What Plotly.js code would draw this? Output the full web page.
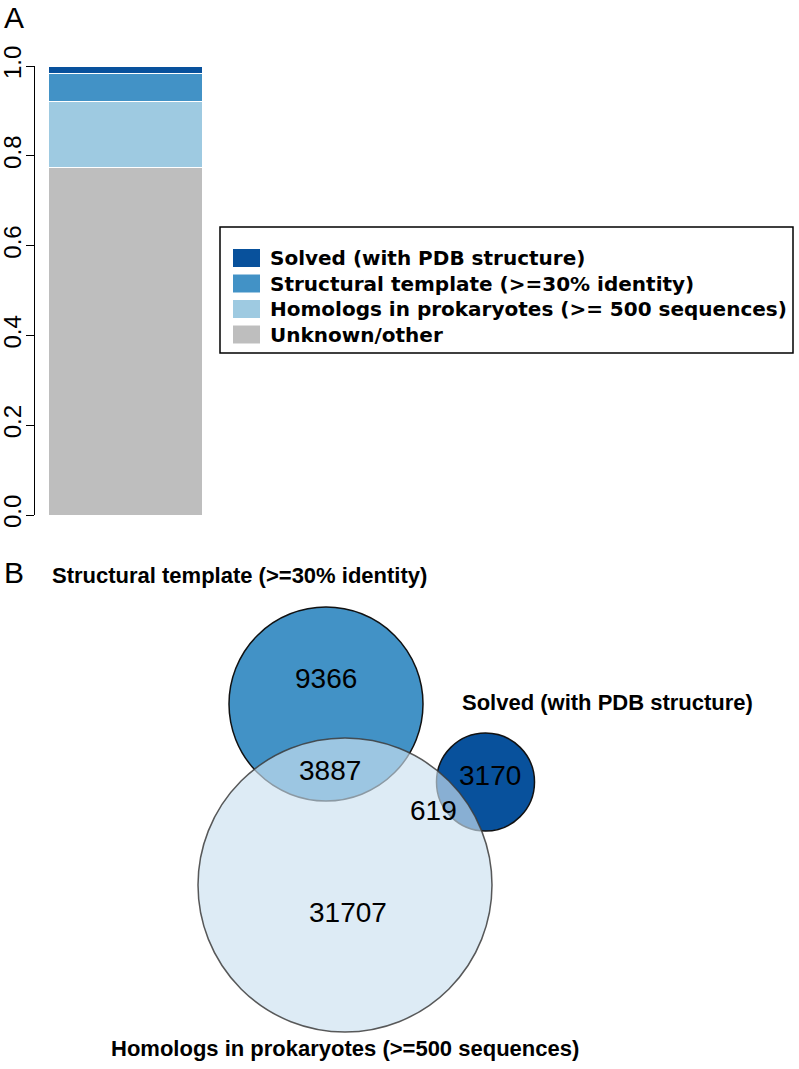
<!DOCTYPE html>
<html>
<head>
<meta charset="utf-8">
<script src="https://cdn.plot.ly/plotly-3.0.1.min.js"></script>
<style>
  html, body { margin: 0; padding: 0; background: #fff; }
  #chart { width: 799px; height: 1069px; }
</style>
</head>
<body>
<div id="chart"></div>
<script>
// ====== Data ======
// Panel A: share of proteins per category (bottom to top of the stacked bar)
var barCategories = ['Unknown/other', 'Homologs in prokaryotes (>= 500 sequences)',
                     'Structural template (>=30% identity)', 'Solved (with PDB structure)'];
var barShares = [0.775, 0.147, 0.062, 0.016];
var yTickVals = [0, 0.2, 0.4, 0.6, 0.8, 1.0];
var yTickText = ['0.0', '0.2', '0.4', '0.6', '0.8', '1.0'];

// Panel B: Venn diagram sets and region counts
var vennSets = ['Structural template (>=30% identity)', 'Solved (with PDB structure)',
                'Homologs in prokaryotes (>=500 sequences)'];
var vennRegions = ['template only', 'template & homologs', 'solved only', 'solved & homologs', 'homologs only'];
var vennCounts = [9366, 3887, 3170, 619, 31707];

// ====== Styles / geometry ======
var W = 799, H = 1069;
var barColors = ['#BEBEBE', '#9ECAE1', '#4292C6', '#08519C'];
var legendOrder = [3, 2, 1, 0];

// venn circles in pixel units: structural, solved, homologs (drawn in this order)
var circX = [326, 485.5, 345];
var circY = [704, 782, 885];
var circR = [97, 49, 147];
var circFill = ['#4292C6', '#08519C', 'rgba(203,225,240,0.66)'];
var circLine = ['#111111', '#111111', 'rgba(60,60,60,0.85)'];
var regionX = [326, 330, 490, 433, 348];
var regionY = [678, 770, 775, 810, 912];
var setLabelX = [239, 607, 345];
var setLabelY = [575, 702, 1048];

function px(x) { return x / W; }
function py(y) { return 1 - y / H; }

var sansFont = 'Liberation Sans, Arial, Helvetica, sans-serif';
var legFont = 'DejaVu Sans, Verdana, sans-serif';

// ====== Traces ======
var traces = barCategories.map(function (c, i) {
  return {
    type: 'bar', name: c, x: [0.5], y: [barShares[i]], width: [1],
    marker: { color: barColors[i], line: { color: '#ffffff', width: 1 } },
    xaxis: 'x', yaxis: 'y', hoverinfo: 'skip', showlegend: false
  };
});

// ====== Shapes & annotations ======
var shapes = [];
var annotations = [];

// legend for panel A
var legBox = { x0: 220, x1: 793, y0: 227, y1: 353 };
shapes.push({
  type: 'rect', xref: 'paper', yref: 'paper',
  x0: px(legBox.x0), x1: px(legBox.x1), y0: py(legBox.y0), y1: py(legBox.y1),
  line: { color: '#000', width: 1.5 }, fillcolor: 'rgba(0,0,0,0)'
});
legendOrder.forEach(function (idx, row) {
  var cy = 258 + row * 25.5;
  shapes.push({
    type: 'rect', xref: 'paper', yref: 'paper',
    x0: px(233), x1: px(260), y0: py(cy - 9), y1: py(cy + 9),
    line: { width: 0 }, fillcolor: barColors[idx]
  });
  annotations.push({
    xref: 'paper', yref: 'paper', x: px(268), y: py(cy),
    xanchor: 'left', yanchor: 'middle', showarrow: false,
    text: barCategories[idx],
    font: { family: legFont, size: 20, color: '#000', weight: 'bold' }
  });
});

// panel letters (top-anchored so the text box stays inside the page)
[['A', 14, 0], ['B', 14, 555]].forEach(function (p) {
  annotations.push({
    xref: 'paper', yref: 'paper', x: px(p[1]), y: py(p[2]),
    xanchor: 'center', yanchor: 'top', showarrow: false, text: p[0],
    borderpad: 0,
    font: { family: sansFont, size: 30, color: '#000' }
  });
});

// venn circles
circR.forEach(function (r, i) {
  shapes.push({
    type: 'circle', xref: 'x2', yref: 'y2',
    x0: circX[i] - r, x1: circX[i] + r, y0: circY[i] - r, y1: circY[i] + r,
    fillcolor: circFill[i], line: { color: circLine[i], width: 1.5 }
  });
});

// venn region counts
vennCounts.forEach(function (n, i) {
  annotations.push({
    xref: 'x2', yref: 'y2', x: regionX[i], y: regionY[i],
    xanchor: 'center', yanchor: 'middle', showarrow: false, text: String(n),
    font: { family: sansFont, size: 28, color: '#000' }
  });
});

// venn set labels
vennSets.forEach(function (s, i) {
  annotations.push({
    xref: 'x2', yref: 'y2', x: setLabelX[i], y: setLabelY[i],
    xanchor: 'center', yanchor: 'middle', showarrow: false, text: s,
    font: { family: sansFont, size: 22, color: '#000', weight: 'bold' }
  });
});

// ====== Layout ======
var layout = {
  width: W, height: H,
  margin: { l: 0, r: 0, t: 0, b: 0 },
  paper_bgcolor: '#ffffff',
  plot_bgcolor: 'rgba(0,0,0,0)',
  barmode: 'stack',
  bargap: 0,
  showlegend: false,
  xaxis: {
    domain: [35 / W, 226 / W], range: [-13 / 154, -13 / 154 + 191 / 154],
    visible: false, fixedrange: true
  },
  yaxis: {
    domain: [1 - 515 / H, 1 - 66 / H], range: [0, 1],
    showline: true, linecolor: '#000', linewidth: 1,
    ticks: 'outside', ticklen: 8, tickwidth: 1, tickcolor: '#000',
    tickvals: yTickVals, ticktext: yTickText, tickangle: -90,
    ticklabelstandoff: -5,
    tickfont: { family: sansFont, size: 24, color: '#000' },
    showgrid: false, zeroline: false, fixedrange: true
  },
  xaxis2: { domain: [0, 1], range: [0, W], visible: false, anchor: 'y2', fixedrange: true },
  yaxis2: { domain: [0, 1], range: [H, 0], visible: false, anchor: 'x2', fixedrange: true },
  shapes: shapes,
  annotations: annotations
};

Plotly.newPlot('chart', traces, layout, { displayModeBar: false, staticPlot: true });
</script>
</body>
</html>
